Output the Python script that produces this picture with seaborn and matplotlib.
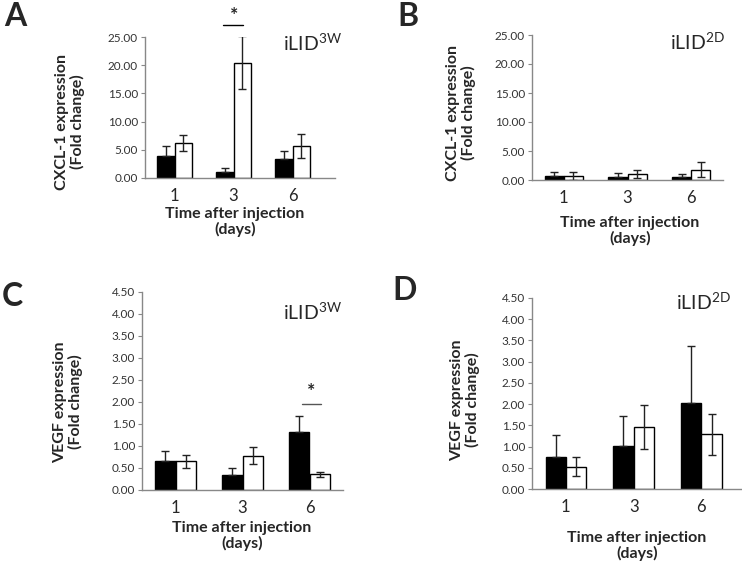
import matplotlib
matplotlib.use("Agg")
import matplotlib.pyplot as plt
import pandas as pd
import seaborn as sns

sns.set_style("white")
plt.rcParams['font.family'] = ['Lato', 'DejaVu Sans']
plt.rcParams['mathtext.fontset'] = 'custom'
plt.rcParams['mathtext.rm'] = 'Lato'

# data (black = group 1, white = group 2)
days = ["1", "3", "6"]
groups = ["black", "white"]

cxcl_3w_black = [3.9, 1.1, 3.3]
cxcl_3w_black_err = [1.7, 0.6, 1.5]
cxcl_3w_white = [6.2, 20.4, 5.7]
cxcl_3w_white_err = [1.5, 4.7, 2.1]

cxcl_2d_black = [0.7, 0.6, 0.5]
cxcl_2d_black_err = [0.6, 0.6, 0.5]
cxcl_2d_white = [0.7, 1.0, 1.8]
cxcl_2d_white_err = [0.7, 0.7, 1.3]

vegf_3w_black = [0.67, 0.33, 1.31]
vegf_3w_black_err = [0.22, 0.16, 0.37]
vegf_3w_white = [0.65, 0.78, 0.36]
vegf_3w_white_err = [0.15, 0.20, 0.06]

vegf_2d_black = [0.76, 1.02, 2.03]
vegf_2d_black_err = [0.52, 0.70, 1.33]
vegf_2d_white = [0.53, 1.47, 1.29]
vegf_2d_white_err = [0.22, 0.52, 0.48]

W, H = 742, 565
fig = plt.figure(figsize=(W / 100, H / 100), dpi=100)


def px_axes(left, top, right, bottom):
    return fig.add_axes([left / W, 1 - bottom / H, (right - left) / W, (bottom - top) / H])


def ftext(x, y, s, **kw):
    fig.text(x / W, 1 - y / H, s, ha="center", va="center", **kw)


def panel(ax, black, black_err, white, white_err, ymax, ystep, xr):
    df = pd.DataFrame({
        "day": days * 2,
        "group": [groups[0]] * 3 + [groups[1]] * 3,
        "value": black + white,
    })
    sns.barplot(data=df, x="day", y="value", hue="group", order=days, hue_order=groups,
                palette={"black": "black", "white": "white"}, edgecolor="black",
                linewidth=1, width=0.6, errorbar=None, legend=False, ax=ax)
    bars = [p for p in ax.patches if p.get_height() > 0]
    # black bars: only the upper whisker shows; white bars: both
    lower = [0] * 3 + white_err
    upper = black_err + white_err
    for p, lo, up in zip(bars, lower, upper):
        ax.errorbar(p.get_x() + p.get_width() / 2, p.get_height(), yerr=[[lo], [up]],
                    fmt="none", ecolor="#222222", elinewidth=1, capsize=3, capthick=1)
    ax.set_ylim(0, ymax)
    ax.set_xlim(-0.5, xr)
    ticks = [i * ystep for i in range(int(round(ymax / ystep)) + 1)]
    ax.set_yticks(ticks)
    ax.set_yticklabels([f"{t:.2f}" for t in ticks], fontsize=8.5, color="#333333")
    ax.tick_params(axis="y", left=True, length=3, color="#888888", pad=2)
    ax.tick_params(axis="x", bottom=False, labelsize=12, pad=4)
    for s in ["top", "right"]:
        ax.spines[s].set_visible(False)
    for s in ["left", "bottom"]:
        ax.spines[s].set_color("#888888")
        ax.spines[s].set_linewidth(1)
    ax.set_xlabel("")
    ax.set_ylabel("")
    ax.patch.set_alpha(0)


axA = px_axes(145, 37, 335, 178)
panel(axA, cxcl_3w_black, cxcl_3w_black_err, cxcl_3w_white, cxcl_3w_white_err, 25, 5, 2.72)
axB = px_axes(532, 35, 723, 180)
panel(axB, cxcl_2d_black, cxcl_2d_black_err, cxcl_2d_white, cxcl_2d_white_err, 25, 5, 2.5)
axC = px_axes(142, 292, 343, 490)
panel(axC, vegf_3w_black, vegf_3w_black_err, vegf_3w_white, vegf_3w_white_err, 4.5, 0.5, 2.5)
axD = px_axes(532, 298, 742, 489)
panel(axD, vegf_2d_black, vegf_2d_black_err, vegf_2d_white, vegf_2d_white_err, 4.5, 0.5, 2.6)

# panel letters
for x, y, s in [(15, 17, "A"), (408, 17, "B"), (12, 296, "C"), (405, 290, "D")]:
    ftext(x, y, s, fontsize=23, fontweight="bold")

# condition labels
ftext(312, 43, r"iLID$^{\mathrm{3W}}$", fontsize=14)
ftext(697, 42, r"iLID$^{\mathrm{2D}}$", fontsize=14)
ftext(312, 312, r"iLID$^{\mathrm{3W}}$", fontsize=14)
ftext(703, 302, r"iLID$^{\mathrm{2D}}$", fontsize=14)

# y labels
for x, y, s in [(70, 122, "CXCL-1 expression\n(Fold change)"),
                (461, 113, "CXCL-1 expression\n(Fold change)"),
                (68, 402, "VEGF expression\n(Fold change)"),
                (465, 400, "VEGF expression\n(Fold change)")]:
    ftext(x, y, s, fontsize=11.5, fontweight="bold", rotation=90, linespacing=1.05)

# x labels
for x, y, s in [(235, 222, "Time after injection\n(days)"),
                (630, 231, "Time after injection\n(days)"),
                (242, 536, "Time after injection\n(days)"),
                (637, 546, "Time after injection\n(days)")]:
    ftext(x, y, s, fontsize=11.5, fontweight="bold", linespacing=1.15)

# significance marks
fig.add_artist(plt.Line2D([223 / W, 243 / W], [1 - 25 / H, 1 - 25 / H], color="black", lw=1))
ftext(234, 15, "*", fontsize=14, fontweight="bold")
fig.add_artist(plt.Line2D([302 / W, 321 / W], [1 - 404 / H, 1 - 404 / H], color="#555555", lw=1))
ftext(311, 392, "*", fontsize=14, fontweight="bold")

fig.savefig("out.png", dpi=100)
